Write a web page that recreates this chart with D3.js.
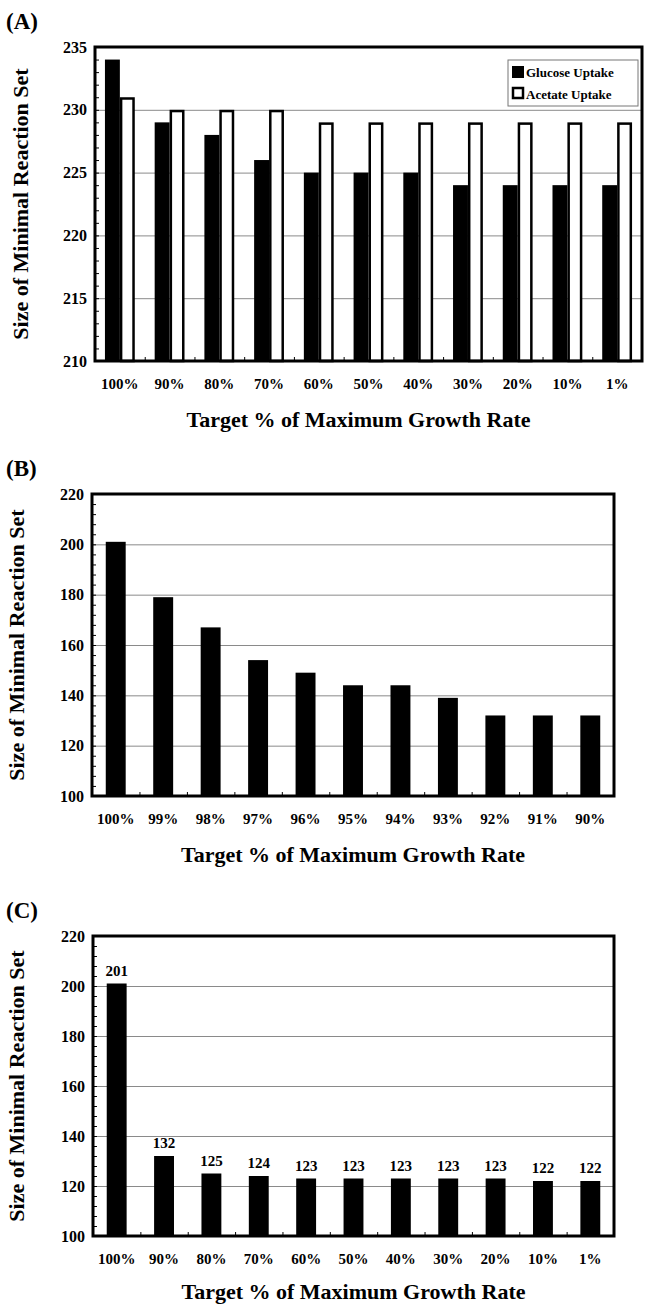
<!DOCTYPE html>
<html>
<head>
<meta charset="utf-8">
<style>
  body { margin: 0; background: #fff; }
  svg text { font-family: "Liberation Serif", "Times New Roman", serif; font-weight: bold; fill: #000; }
  .grid line { stroke: #8a8a8a; stroke-width: 1; }
  .grid path { display: none; }
  .minor path, .xmin path { display: none; }
  .minor line, .xmin line { stroke: #000; stroke-width: 1; }
  .lab path, .lab line { display: none; }
</style>
<script src="https://d3js.org/d3.v7.min.js"></script>
</head>
<body>
<svg width="648" height="1305"></svg>
<script>
// panel A
var catsA = ["100%", "90%", "80%", "70%", "60%", "50%", "40%", "30%", "20%", "10%", "1%"];
var glucoseA = [234, 229, 228, 226, 225, 225, 225, 224, 224, 224, 224];
var acetateA = [231, 230, 230, 230, 229, 229, 229, 229, 229, 229, 229];
var seriesA = ["Glucose Uptake", "Acetate Uptake"];
var ticksA = [210, 215, 220, 225, 230, 235];

// panel B
var catsB = ["100%", "99%", "98%", "97%", "96%", "95%", "94%", "93%", "92%", "91%", "90%"];
var valuesB = [201, 179, 167, 154, 149, 144, 144, 139, 132, 132, 132];
var ticksB = [100, 120, 140, 160, 180, 200, 220];

// panel C
var catsC = ["100%", "90%", "80%", "70%", "60%", "50%", "40%", "30%", "20%", "10%", "1%"];
var valuesC = [201, 132, 125, 124, 123, 123, 123, 123, 123, 122, 122];
var ticksC = [100, 120, 140, 160, 180, 200, 220];

var svg = d3.select("svg");

function panel(o) {
  var g = svg.append("g");
  var x = d3.scaleBand().domain(o.cats).range([o.left, o.right])
      .paddingInner(o.pin).paddingOuter(o.pout);
  var y = d3.scaleLinear().domain(o.domain).range([o.bottom, o.top]);
  var w = o.right - o.left;

  // gridlines
  g.append("g").attr("class", "grid")
    .attr("transform", "translate(" + o.left + ",0)")
    .call(d3.axisRight(y).tickValues(o.ticks.slice(1, -1)).tickSize(w).tickFormat(""));

  // minor ticks inside the left edge
  g.append("g").attr("class", "minor")
    .attr("transform", "translate(" + o.left + ",0)")
    .call(d3.axisRight(y).tickValues(d3.range(o.domain[0], o.domain[1] + 0.01, o.minor)).tickSize(4).tickFormat(""));

  // x ticks between categories
  var bounds = o.cats.slice(1).map(function(c) { return x(c) - x.step() * x.paddingInner() / 2; });
  g.append("g").attr("class", "xmin")
    .attr("transform", "translate(0," + o.bottom + ")")
    .call(d3.axisTop(d3.scaleLinear().domain([0, 1000]).range([0, 1000])).tickValues(bounds).tickSize(4).tickFormat(""));

  // tick labels
  g.append("g").attr("class", "lab")
    .attr("transform", "translate(" + (o.left - 8) + ",0)")
    .call(d3.axisLeft(y).tickValues(o.ticks).tickSize(0).tickPadding(0).tickFormat(d3.format("d")))
    .selectAll("text").style("font-size", "16px");

  g.append("g").attr("class", "lab")
    .attr("transform", "translate(0," + (o.bottom + 17) + ")")
    .call(d3.axisBottom(x).tickSize(0).tickPadding(0))
    .selectAll("text").style("font-size", "15px");

  o.bars(g, x, y);

  // frame
  g.append("rect")
    .attr("x", o.left).attr("y", o.top)
    .attr("width", w).attr("height", o.bottom - o.top)
    .attr("fill", "none").attr("stroke", "#000").attr("stroke-width", 3);

  g.append("text")
    .attr("x", (o.left + o.right) / 2 + o.tdx).attr("y", o.bottom + o.tdy)
    .attr("text-anchor", "middle").style("font-size", "22px")
    .text("Target % of Maximum Growth Rate");

  g.append("text")
    .attr("transform", "translate(" + o.ylx + "," + ((o.top + o.bottom) / 2) + ") rotate(-90)")
    .attr("text-anchor", "middle").style("font-size", "22px")
    .text("Size of Minimal Reaction Set");

  g.append("text")
    .attr("x", 6).attr("y", o.top - 18)
    .style("font-size", "23px")
    .text(o.name);
  return g;
}

panel({
  name: "(A)", cats: catsA, domain: [210, 235], ticks: ticksA, minor: 1,
  left: 95, right: 642, top: 47, bottom: 361, pin: 0.4, pout: 0.2, ylx: 28, tdx: -10, tdy: 66,
  bars: function(g, x, y) {
    var sub = d3.scaleBand().domain(seriesA).range([0, x.bandwidth()]);
    g.selectAll(".glu").data(glucoseA).enter().append("rect")
      .attr("x", function(d, i) { return x(catsA[i]) + sub(seriesA[0]); })
      .attr("y", function(d) { return y(d); })
      .attr("width", sub.bandwidth())
      .attr("height", function(d) { return y(210) - y(d); })
      .attr("fill", "#000");
    g.selectAll(".ace").data(acetateA).enter().append("rect")
      .attr("x", function(d, i) { return x(catsA[i]) + sub(seriesA[1]) + 1.25; })
      .attr("y", function(d) { return y(d) + 1.25; })
      .attr("width", sub.bandwidth() - 2.5)
      .attr("height", function(d) { return y(210) - y(d) - 1.25; })
      .attr("fill", "#fff").attr("stroke", "#000").attr("stroke-width", 2.5);

    // legend
    var lg = g.append("g").attr("transform", "translate(508,60)");
    lg.append("rect").attr("width", 130).attr("height", 46)
      .attr("fill", "#fff").attr("stroke", "#777").attr("stroke-width", 1);
    lg.selectAll(".sw").data(seriesA).enter().append("rect")
      .attr("x", function(d, i) { return i ? 5 : 4; })
      .attr("y", function(d, i) { return i ? 28 : 6; })
      .attr("width", function(d, i) { return i ? 10 : 12; })
      .attr("height", function(d, i) { return i ? 10 : 12; })
      .attr("fill", function(d, i) { return i ? "#fff" : "#000"; })
      .attr("stroke", "#000").attr("stroke-width", function(d, i) { return i ? 2.5 : 0; });
    lg.selectAll(".lt").data(seriesA).enter().append("text")
      .attr("x", 18).attr("y", function(d, i) { return 17 + i * 22; })
      .style("font-size", "13px").text(function(d) { return d; });
  }
});

panel({
  name: "(B)", cats: catsB, domain: [100, 220], ticks: ticksB, minor: 4,
  left: 92, right: 614, top: 494, bottom: 796, pin: 0.58, pout: 0.29, ylx: 24, tdx: 0, tdy: 66,
  bars: function(g, x, y) {
    g.selectAll(".b").data(valuesB).enter().append("rect")
      .attr("x", function(d, i) { return x(catsB[i]); })
      .attr("y", function(d) { return y(d); })
      .attr("width", x.bandwidth())
      .attr("height", function(d) { return y(100) - y(d); })
      .attr("fill", "#000");
  }
});

panel({
  name: "(C)", cats: catsC, domain: [100, 220], ticks: ticksC, minor: 4,
  left: 93, right: 614, top: 936, bottom: 1236, pin: 0.58, pout: 0.29, ylx: 24, tdx: 0, tdy: 63,
  bars: function(g, x, y) {
    g.selectAll(".b").data(valuesC).enter().append("rect")
      .attr("x", function(d, i) { return x(catsC[i]); })
      .attr("y", function(d) { return y(d); })
      .attr("width", x.bandwidth())
      .attr("height", function(d) { return y(100) - y(d); })
      .attr("fill", "#000");
    g.selectAll(".v").data(valuesC).enter().append("text")
      .attr("x", function(d, i) { return x(catsC[i]) + x.bandwidth() / 2; })
      .attr("y", function(d) { return y(d) - 8; })
      .attr("text-anchor", "middle").style("font-size", "15px")
      .text(function(d) { return d; });
  }
});
</script>
</body>
</html>
